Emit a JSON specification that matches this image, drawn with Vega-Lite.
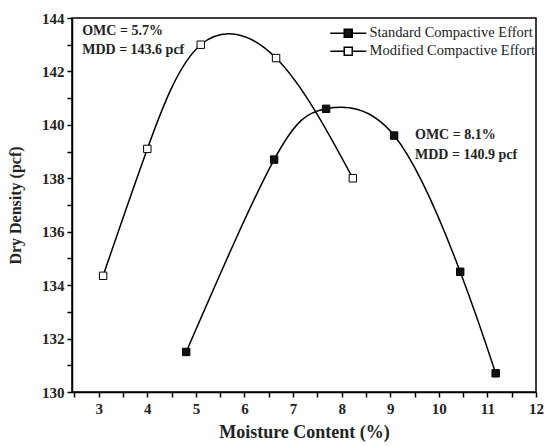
{
  "$schema": "https://vega.github.io/schema/vega-lite/v6.json",
  "width": 464,
  "height": 374,
  "autosize": {"type": "none"},
  "padding": {"left": 72, "top": 18, "right": 8, "bottom": 54},
  "background": "white",
  "config": {
    "view": {"stroke": "black", "strokeWidth": 1.5},
    "font": "Liberation Serif"
  },
  "datasets": {
    "curves": [
      {"series": "Standard Compactive Effort", "moisture": 4.8, "density": 131.5},
      {"series": "Standard Compactive Effort", "moisture": 6.61, "density": 138.7},
      {"series": "Standard Compactive Effort", "moisture": 7.68, "density": 140.6},
      {"series": "Standard Compactive Effort", "moisture": 9.08, "density": 139.6},
      {"series": "Standard Compactive Effort", "moisture": 10.44, "density": 134.5},
      {"series": "Standard Compactive Effort", "moisture": 11.17, "density": 130.7},
      {"series": "Modified Compactive Effort", "moisture": 3.09, "density": 134.35},
      {"series": "Modified Compactive Effort", "moisture": 4.0, "density": 139.1},
      {"series": "Modified Compactive Effort", "moisture": 5.1, "density": 143.0},
      {"series": "Modified Compactive Effort", "moisture": 6.65, "density": 142.5},
      {"series": "Modified Compactive Effort", "moisture": 8.23, "density": 138.0}
    ],
    "notes": [
      {"moisture": 2.66, "density": 143.5, "label": "OMC = 5.7%"},
      {"moisture": 2.66, "density": 142.82, "label": "MDD = 143.6 pcf"},
      {"moisture": 9.51, "density": 139.62, "label": "OMC = 8.1%"},
      {"moisture": 9.51, "density": 138.88, "label": "MDD = 140.9 pcf"}
    ]
  },
  "layer": [
    {
      "data": {"name": "curves"},
      "mark": {"type": "line", "interpolate": "natural", "color": "black", "strokeWidth": 1.5},
      "encoding": {
        "x": {
          "field": "moisture", "type": "quantitative",
          "scale": {"domain": [2.45, 12], "nice": false, "zero": false},
          "axis": {
            "title": "Moisture Content (%)",
            "values": [2.5, 3, 3.5, 4, 4.5, 5, 5.5, 6, 6.5, 7, 7.5, 8, 8.5, 9, 9.5, 10, 10.5, 11, 11.5, 12],
            "tickCount": 40,
            "labelExpr": "datum.value % 1 === 0 ? format(datum.value, 'd') : ''",
            "labelOverlap": false,
            "labelFlush": false,
            "grid": false, "domainColor": "black", "domainWidth": 1.5,
            "tickColor": "black", "tickWidth": 1.5, "tickSize": 5,
            "labelFont": "Liberation Serif", "labelFontWeight": "bold", "labelFontSize": 15,
            "labelColor": "#222", "labelPadding": 4,
            "titleFont": "Liberation Serif", "titleFontWeight": "bold", "titleFontSize": 18,
            "titleColor": "#222", "titlePadding": 7
          }
        },
        "y": {
          "field": "density", "type": "quantitative",
          "scale": {"domain": [130, 144], "nice": false, "zero": false},
          "axis": {
            "title": "Dry Density (pcf)",
            "values": [130, 131, 132, 133, 134, 135, 136, 137, 138, 139, 140, 141, 142, 143, 144],
            "tickCount": 40,
            "labelExpr": "datum.value % 2 === 0 ? format(datum.value, 'd') : ''",
            "labelOverlap": false,
            "grid": false, "domainColor": "black", "domainWidth": 1.5,
            "tickColor": "black", "tickWidth": 1.5, "tickSize": 5,
            "labelFont": "Liberation Serif", "labelFontWeight": "bold", "labelFontSize": 15,
            "labelColor": "#222", "labelPadding": 3,
            "titleFont": "Liberation Serif", "titleFontWeight": "bold", "titleFontSize": 16,
            "titleColor": "#222", "titlePadding": 18
          }
        },
        "detail": {"field": "series"},
        "order": {"field": "moisture"}
      }
    },
    {
      "data": {"name": "curves"},
      "mark": {"type": "point", "shape": "square", "filled": true, "size": 55, "stroke": "black", "strokeWidth": 1, "opacity": 1},
      "encoding": {
        "x": {"field": "moisture", "type": "quantitative"},
        "y": {"field": "density", "type": "quantitative"},
        "fill": {
          "field": "series", "type": "nominal",
          "scale": {"domain": ["Standard Compactive Effort", "Modified Compactive Effort"], "range": ["#111", "white"]},
          "legend": {
            "title": null,
            "orient": "none",
            "legendX": 269,
            "legendY": 8,
            "padding": 0,
            "rowPadding": 2,
            "labelFont": "Liberation Serif",
            "labelFontSize": 14.5,
            "labelColor": "#222",
            "labelLimit": 300,
            "labelOffset": 14,
            "symbolType": "M-3,0H-0.67M0.67,0H3M-0.67,-0.67H0.67V0.67H-0.67Z",
            "symbolSize": 144,
            "symbolStrokeColor": "black",
            "symbolStrokeWidth": 1.5,
            "symbolOpacity": 1
          }
        }
      }
    },
    {
      "data": {"name": "notes"},
      "mark": {"type": "text", "align": "left", "baseline": "middle", "font": "Liberation Serif", "fontWeight": "bold", "fontSize": 14, "color": "#222"},
      "encoding": {
        "x": {"field": "moisture", "type": "quantitative"},
        "y": {"field": "density", "type": "quantitative"},
        "text": {"field": "label"}
      }
    }
  ]
}
